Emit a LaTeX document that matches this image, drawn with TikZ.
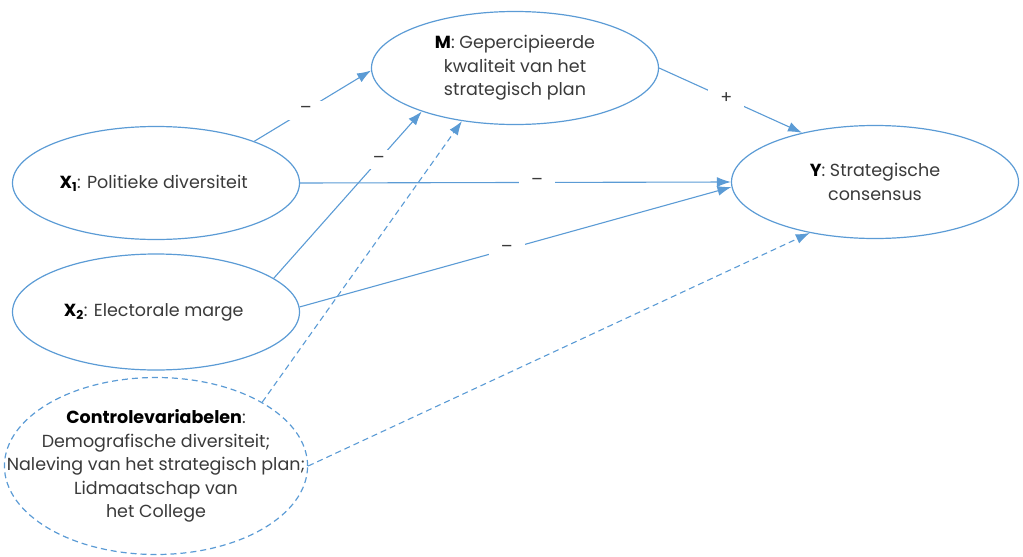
\documentclass[tikz,border=0pt]{standalone}
\usepackage{fontspec}
\setmainfont{Poppins}
\usetikzlibrary{shapes.geometric, arrows.meta}
\definecolor{varedge}{HTML}{5B9BD5}
\definecolor{textgray}{HTML}{3A3A3A}

\begin{document}
\begin{tikzpicture}[
    x=1pt, y=-1pt,
    >={Latex[length=14pt, width=10pt]},
    every node/.style={font=\fontsize{17.5}{23.5}\selectfont, text=textgray},
    var/.style={
        ellipse, draw=varedge, line width=1.2pt,
        inner sep=0pt, align=center,
        minimum width=287pt, minimum height=113pt
    },
    ctrlvar/.style={
        var, dash pattern=on 6pt off 4pt,
        inner xsep=-42pt, inner ysep=0pt,
        minimum width=300pt, minimum height=177pt
    },
    effect/.style={->, line width=1.1pt, color=varedge},
    ctrlline/.style={effect, dash pattern=on 6pt off 4pt},
    sign/.style={fill=white, inner xsep=12pt, inner ysep=6pt},
]

\useasboundingbox (0,0) rectangle (1023,557);

%% ============ VARIABLES ============
\node[var] (kwaliteit) at (515, 68) {
    {\color{black}\textbf{M}}: Gepercipieerde\\
    kwaliteit van het\\
    strategisch plan
};

\node[var] (poldiv) at (156, 183) {
    {\color{black}\textbf{X\textsubscript{1}}}: Politieke diversiteit
};

\node[var, minimum height=116pt] (marge) at (156, 312) {
    {\color{black}\textbf{X\textsubscript{2}}}: Electorale marge
};

\node[var] (consensus) at (875, 182) {
    {\color{black}\textbf{Y}}: Strategische\\
    consensus
};

\node[ctrlvar] (controls) at (156, 466) {
    {\color{black}\textbf{Controlevariabelen}}:\\
    Demografische diversiteit;\\
    Naleving van het strategisch plan;\\
    Lidmaatschap van\\
    het College
};

%% ============ EFFECTS ON M ============
\draw[effect] (poldiv.23) -- node[sign, pos=0.44] {\textendash} (kwaliteit.181);
\draw[effect] (marge.16) -- node[sign, pos=0.71] {\textendash} (kwaliteit.205);
\draw[ctrlline] (controls.31) -- (kwaliteit.225);

%% ============ EFFECTS ON Y ============
\draw[effect] (poldiv.east) -- node[sign, pos=0.55] {\textendash} (consensus.west);
\draw[effect] (marge.2) -- node[sign, pos=0.48] {\textendash} (consensus.182);
\draw[effect] (kwaliteit.east) -- node[sign, pos=0.47] {+} (consensus.146);
\draw[ctrlline] (controls.east) -- (consensus.218);

\end{tikzpicture}
\end{document}
